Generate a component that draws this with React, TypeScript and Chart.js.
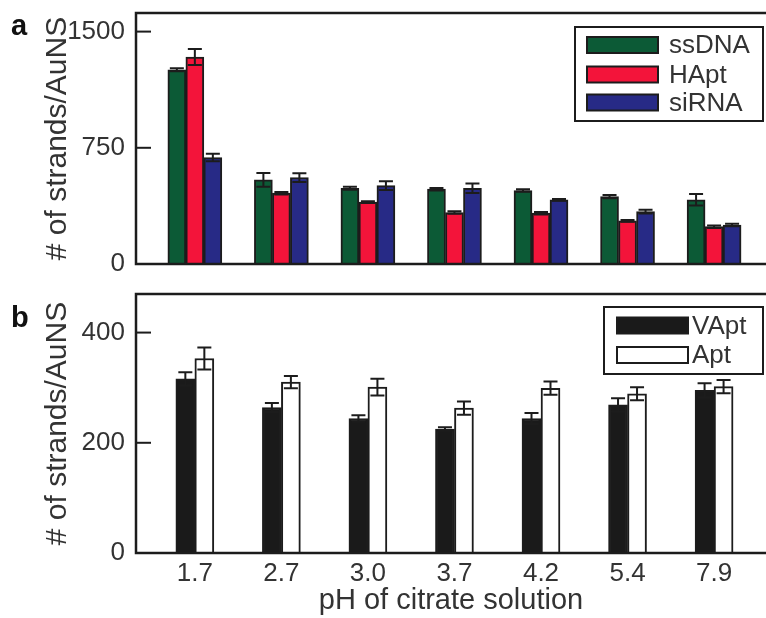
import React, { useEffect, useRef } from "react";
import { Chart, registerables } from "chart.js";
Chart.register(...registerables);

// ---- data ----
const phLabels = ["1.7", "2.7", "3.0", "3.7", "4.2", "5.4", "7.9"];

const ssDNA = [1254, 543, 489, 483, 474, 435, 414];
const ssDNAErr = [10, 45, 10, 8, 8, 10, 37];
const hApt = [1336, 457, 399, 332, 328, 278, 241];
const hAptErr = [52, 8, 6, 8, 8, 6, 8];
const siRNA = [687, 558, 506, 489, 414, 338, 252];
const siRNAErr = [24, 28, 28, 30, 6, 12, 8];

const vApt = [316, 264, 244, 225, 244, 269, 295];
const vAptErr = [12, 8, 6, 3, 10, 12, 13];
const apt = [353, 310, 301, 263, 299, 289, 302];
const aptErr = [20, 11, 15, 12, 12, 12, 12];

const yTicksA = [0, 750, 1500];
const yTicksB = [0, 200, 400];

const yTitle = "# of strands/AuNS";
const xTitle = "pH of citrate solution";

const FONT = '"Liberation Sans", Arial, sans-serif';
const INK = "#1c1c1c";
const TXT = "#333333";

type LegendSpec = {
  box: [number, number, number, number];
  swX: number;
  swW: number;
  swH: number;
  rows: number[];
  textX: number;
};

function makeDeco(cfg: {
  errors: number[][];
  yTicks: number[];
  panel: string;
  panelY: number;
  legend: LegendSpec;
}) {
  return {
    id: "deco",
    afterDatasetsDraw(chart: any) {
      const ctx = chart.ctx as CanvasRenderingContext2D;
      const { left, top, right, bottom } = chart.chartArea;
      const ys = chart.scales.y;
      ctx.save();
      // error bars
      ctx.strokeStyle = INK;
      ctx.lineWidth = 2;
      chart.data.datasets.forEach((ds: any, di: number) => {
        const meta = chart.getDatasetMeta(di);
        meta.data.forEach((bar: any, i: number) => {
          const v = ds.data[i].y;
          const e = cfg.errors[di][i];
          const x = bar.x;
          const y1 = ys.getPixelForValue(v + e);
          const y2 = ys.getPixelForValue(v - e);
          const cw = 7;
          ctx.beginPath();
          ctx.moveTo(x, y1);
          ctx.lineTo(x, y2);
          ctx.moveTo(x - cw, y1);
          ctx.lineTo(x + cw, y1);
          ctx.moveTo(x - cw, y2);
          ctx.lineTo(x + cw, y2);
          ctx.stroke();
        });
      });
      // frame (top, left, bottom)
      ctx.lineWidth = 2.5;
      ctx.beginPath();
      ctx.moveTo(right + 2, top);
      ctx.lineTo(left, top);
      ctx.lineTo(left, bottom);
      ctx.lineTo(right + 2, bottom);
      ctx.stroke();
      // inward y ticks
      ctx.lineWidth = 2;
      cfg.yTicks.forEach((t) => {
        const y = ys.getPixelForValue(t);
        ctx.beginPath();
        ctx.moveTo(left, y);
        ctx.lineTo(left + 15, y);
        ctx.stroke();
      });
      // legend
      const L = cfg.legend;
      ctx.lineWidth = 2;
      ctx.fillStyle = "#ffffff";
      ctx.fillRect(L.box[0], L.box[1], L.box[2] - L.box[0], L.box[3] - L.box[1]);
      ctx.strokeRect(L.box[0], L.box[1], L.box[2] - L.box[0], L.box[3] - L.box[1]);
      ctx.font = `26px ${FONT}`;
      ctx.textBaseline = "middle";
      ctx.textAlign = "left";
      chart.data.datasets.forEach((ds: any, di: number) => {
        const cy = L.rows[di];
        ctx.fillStyle = ds.backgroundColor;
        ctx.fillRect(L.swX, cy - L.swH / 2, L.swW, L.swH);
        ctx.strokeStyle = INK;
        ctx.strokeRect(L.swX, cy - L.swH / 2, L.swW, L.swH);
        ctx.fillStyle = TXT;
        ctx.fillText(ds.label, L.textX, cy + 1);
      });
      // panel label
      ctx.font = `bold 29px ${FONT}`;
      ctx.fillStyle = "#111";
      ctx.textBaseline = "alphabetic";
      ctx.fillText(cfg.panel, 11, cfg.panelY);
      ctx.restore();
    },
  };
}

function buildOptions(p: {
  yMax: number;
  yTicks: number[];
  topPad: number;
  xHeight: number;
  showX: boolean;
}) {
  return {
    responsive: false,
    animation: false as const,
    layout: { padding: { top: p.topPad, left: 0, right: 0, bottom: 0 } },
    plugins: { legend: { display: false }, tooltip: { enabled: false } },
    scales: {
      x: {
        type: "linear" as const,
        offset: false,
        min: -0.68,
        max: 6.6,
        grid: { display: false, drawTicks: false, offset: false },
        border: { display: false },
        afterBuildTicks: (scale: any) => {
          scale.ticks = phLabels.map((_, i) => ({ value: i }));
        },
        afterFit: (scale: any) => {
          scale.height = p.xHeight;
          scale.paddingLeft = 0;
          scale.paddingRight = 0;
        },
        ticks: {
          display: p.showX,
          padding: 5,
          color: TXT,
          font: { family: FONT, size: 26 },
          maxRotation: 0,
          autoSkip: false,
          callback: (v: any) => phLabels[v] ?? "",
        },
        title: {
          display: p.showX,
          text: xTitle,
          color: TXT,
          font: { family: FONT, size: 29 },
          padding: { top: 0, bottom: 0 },
        },
      },
      y: {
        min: 0,
        max: p.yMax,
        grid: { display: false, drawTicks: false },
        border: { display: false },
        afterBuildTicks: (scale: any) => {
          scale.ticks = p.yTicks.map((v) => ({ value: v }));
        },
        afterFit: (scale: any) => {
          scale.width = 136;
          scale.paddingTop = 0;
          scale.paddingBottom = 0;
        },
        ticks: {
          padding: 11,
          color: TXT,
          font: { family: FONT, size: 26 },
          callback: (v: any) => String(v),
        },
        title: {
          display: true,
          text: yTitle,
          color: TXT,
          font: { family: FONT, size: 30 },
          padding: { top: 40, bottom: 0 },
        },
      },
    },
  };
}

const pts = (arr: number[]) => arr.map((v, i) => ({ x: i, y: v }));

function PanelA() {
  const ref = useRef<HTMLCanvasElement>(null);
  useEffect(() => {
    const chart = new Chart(ref.current!, {
      type: "bar",
      data: {
        datasets: [
          { label: "ssDNA", data: pts(ssDNA), backgroundColor: "#0c5a36", borderColor: INK, borderWidth: 2, barThickness: 18 },
          { label: "HApt", data: pts(hApt), backgroundColor: "#f3143a", borderColor: INK, borderWidth: 2, barThickness: 18 },
          { label: "siRNA", data: pts(siRNA), backgroundColor: "#272a86", borderColor: INK, borderWidth: 2, barThickness: 18 },
        ],
      } as any,
      options: buildOptions({ yMax: 1620, yTicks: yTicksA, topPad: 13, xHeight: 26, showX: false }) as any,
      plugins: [
        makeDeco({
          errors: [ssDNAErr, hAptErr, siRNAErr],
          yTicks: yTicksA,
          panel: "a",
          panelY: 35,
          legend: { box: [575, 27, 763, 121], swX: 587, swW: 71, swH: 16, rows: [45, 74.5, 102.5], textX: 669 },
        }),
      ],
    });
    return () => chart.destroy();
  }, []);
  return <canvas ref={ref} width={766} height={290} style={{ position: "absolute", left: 0, top: 0 }} />;
}

function PanelB() {
  const ref = useRef<HTMLCanvasElement>(null);
  useEffect(() => {
    const chart = new Chart(ref.current!, {
      type: "bar",
      data: {
        datasets: [
          { label: "VApt", data: pts(vApt), backgroundColor: "#1a1a1a", borderColor: INK, borderWidth: 2, barThickness: 19 },
          { label: "Apt", data: pts(apt), backgroundColor: "#ffffff", borderColor: INK, borderWidth: 2, barThickness: 19 },
        ],
      } as any,
      options: buildOptions({ yMax: 470, yTicks: yTicksB, topPad: 4, xHeight: 65, showX: true }) as any,
      plugins: [
        makeDeco({
          errors: [vAptErr, aptErr],
          yTicks: yTicksB,
          panel: "b",
          panelY: 37,
          legend: { box: [604, 17, 763, 84], swX: 617, swW: 71, swH: 16, rows: [35.5, 65], textX: 692 },
        }),
      ],
    });
    return () => chart.destroy();
  }, []);
  return <canvas ref={ref} width={766} height={328} style={{ position: "absolute", left: 0, top: 290 }} />;
}

export default function App() {
  return (
    <div style={{ position: "absolute", left: 0, top: 0, width: 766, height: 618, background: "#fff", overflow: "hidden" }}>
      <PanelA />
      <PanelB />
    </div>
  );
}
